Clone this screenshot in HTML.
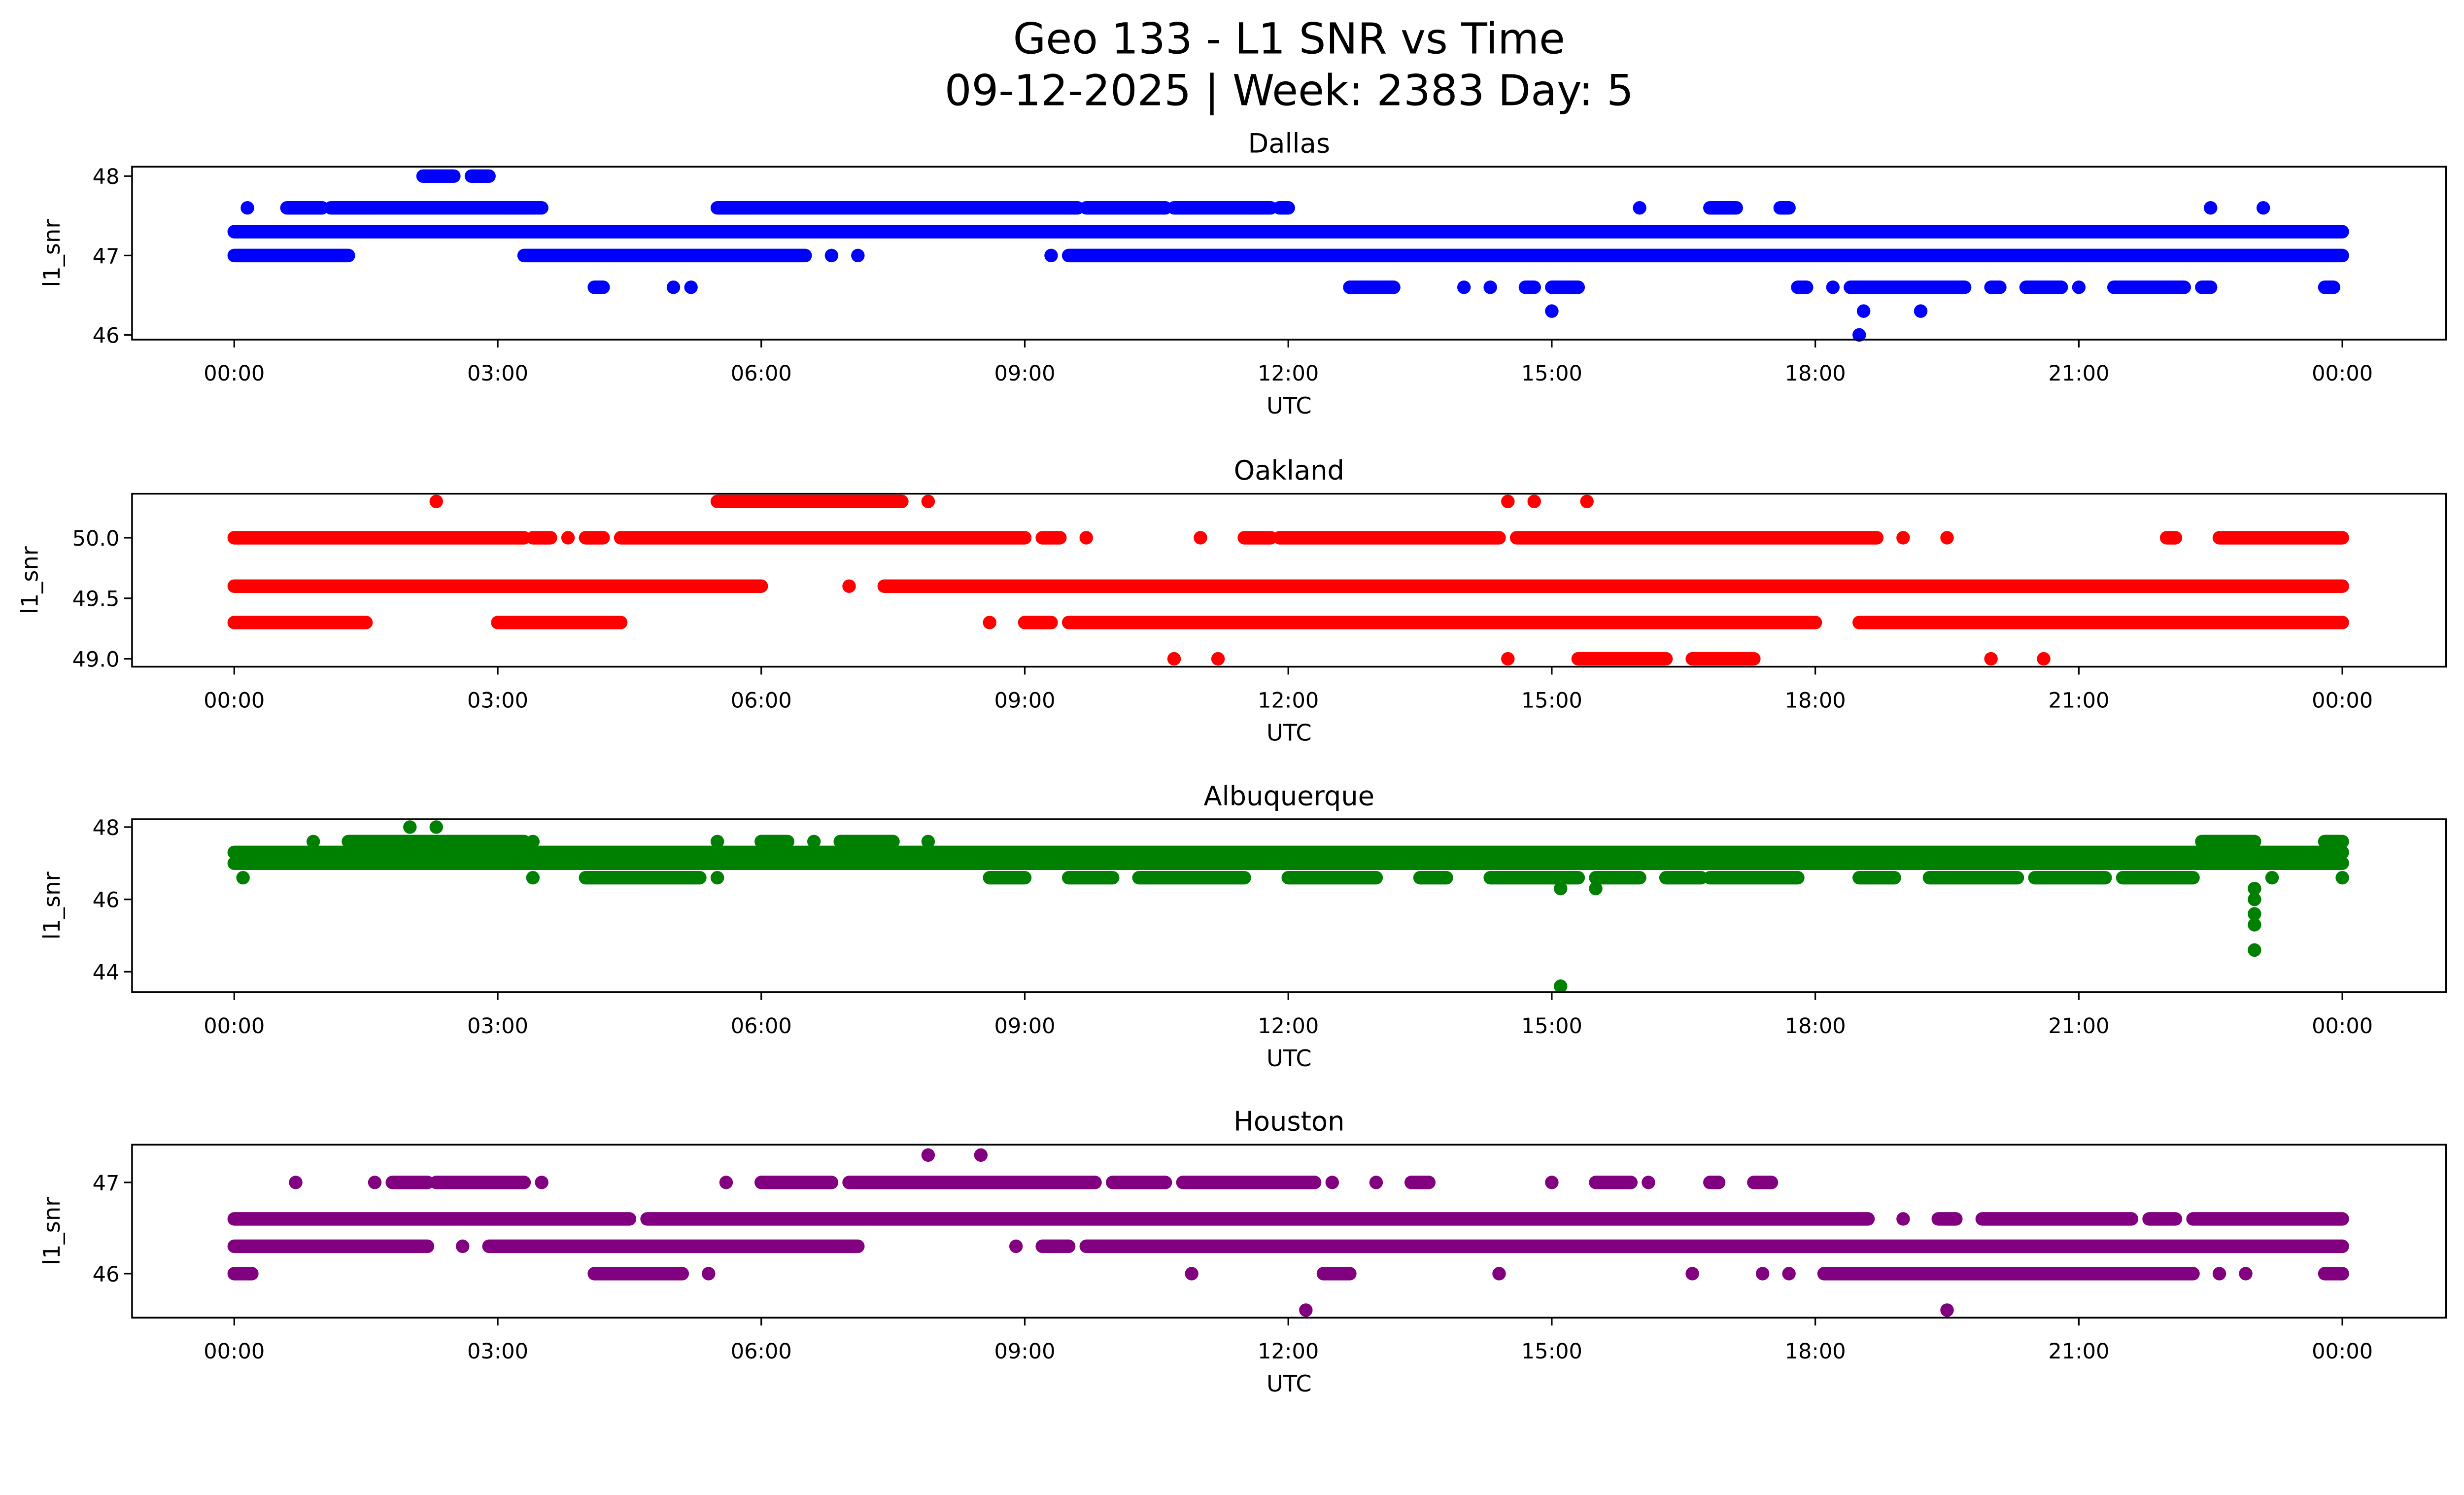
<!DOCTYPE html>
<html><head><meta charset="utf-8"><style>
html,body{margin:0;padding:0;background:#fff;width:5279px;height:3033px;overflow:hidden}
svg{display:block;font-family:"DejaVu Sans","Liberation Sans",sans-serif}
</style></head><body>
<svg id="chart" width="5279" height="3033" viewBox="0 0 5279 3033" xmlns="http://www.w3.org/2000/svg" overflow="hidden">
<rect width="5279" height="3033" fill="#fff"/>
<g id="root" transform="scale(3.19)">
<text x="820" y="34" text-anchor="middle" font-size="27">Geo 133 - L1 SNR vs Time</text>
<text x="820" y="67" text-anchor="middle" font-size="27">09-12-2025 | Week: 2383 Day: 5</text>
</g>
</svg>
<script>
// ---- data (hours UTC, SNR values) ----
const xTickLabels = ["00:00","03:00","06:00","09:00","12:00","15:00","18:00","21:00","00:00"];
const stations = ["Dallas","Oakland","Albuquerque","Houston"];
const colors = ["#0000ff","#ff0000","#008000","#800080"];
const yTicksDallas = [46,47,48];
const yTicksOakland = [49.0,49.5,50.0];
const yTicksAlbuquerque = [44,46,48];
const yTicksHouston = [46,47];
// runs: [value, startHour, endHour]
const runsDallas = [
[47.3,0,24],[47.0,0,1.3],[47.0,3.3,6.5],[47.0,6.8,6.8],[47.0,7.1,7.1],[47.0,9.3,9.3],[47.0,9.5,24],
[47.6,0.15,0.15],[47.6,0.6,1.0],[47.6,1.1,3.5],[47.6,5.5,9.6],[47.6,9.7,10.6],[47.6,10.7,11.8],[47.6,11.9,12.0],
[47.6,16.0,16.0],[47.6,16.8,17.1],[47.6,17.6,17.7],[47.6,22.5,22.5],[47.6,23.1,23.1],
[48.0,2.15,2.5],[48.0,2.7,2.9],
[46.6,4.1,4.2],[46.6,5.0,5.0],[46.6,5.2,5.2],[46.6,12.7,13.2],[46.6,14.0,14.0],[46.6,14.3,14.3],[46.6,14.7,14.8],
[46.6,15.0,15.3],[46.6,17.8,17.9],[46.6,18.2,18.2],[46.6,18.4,19.7],[46.6,20.0,20.1],[46.6,20.4,20.8],[46.6,21.0,21.0],
[46.6,21.4,22.2],[46.6,22.4,22.5],[46.6,23.8,23.9],
[46.3,15.0,15.0],[46.3,18.55,18.55],[46.3,19.2,19.2],[46.0,18.5,18.5]];
const runsOakland = [
[50.3,2.3,2.3],[50.3,5.5,7.6],[50.3,7.9,7.9],[50.3,14.5,14.5],[50.3,14.8,14.8],[50.3,15.4,15.4],
[50.0,0,3.3],[50.0,3.4,3.6],[50.0,3.8,3.8],[50.0,4.0,4.2],[50.0,4.4,9.0],[50.0,9.2,9.4],[50.0,9.7,9.7],[50.0,11.0,11.0],
[50.0,11.5,11.8],[50.0,11.9,14.4],[50.0,14.6,18.7],[50.0,19.0,19.0],[50.0,19.5,19.5],[50.0,22.0,22.1],[50.0,22.6,24],
[49.6,0,6.0],[49.6,7.0,7.0],[49.6,7.4,24],
[49.3,0,1.5],[49.3,3.0,4.4],[49.3,8.6,8.6],[49.3,9.0,9.3],[49.3,9.5,18.0],[49.3,18.5,24],
[49.0,10.7,10.7],[49.0,11.2,11.2],[49.0,14.5,14.5],[49.0,15.3,16.3],[49.0,16.6,17.3],[49.0,20.0,20.0],[49.0,20.6,20.6]];
const runsAlbuquerque = [
[47.0,0,24],[47.3,0,24],
[47.6,0.9,0.9],[47.6,1.3,3.3],[47.6,3.4,3.4],[47.6,5.5,5.5],[47.6,6.0,6.3],[47.6,6.6,6.6],[47.6,6.9,7.5],[47.6,7.9,7.9],[47.6,22.4,23.0],[47.6,23.8,24],
[46.6,0.1,0.1],[46.6,3.4,3.4],[46.6,4.0,5.3],[46.6,5.5,5.5],[46.6,8.6,9.0],[46.6,9.5,10.0],[46.6,10.3,11.5],[46.6,12.0,13.0],
[46.6,13.5,13.8],[46.6,14.3,15.3],[46.6,15.5,16.0],[46.6,16.3,16.7],[46.6,16.8,17.8],[46.6,18.5,18.9],[46.6,19.3,20.3],
[46.6,20.5,21.3],[46.6,21.5,22.3],[46.6,23.2,23.2],[46.6,24,24],
[48.0,2.0,2.0],[48.0,2.3,2.3],[46.3,15.1,15.1],[46.3,15.5,15.5],[46.3,23.0,23.0],[46.0,23.0,23.0],[45.6,23.0,23.0],[45.3,23.0,23.0],
[44.6,23.0,23.0],[43.6,15.1,15.1]];
const runsHouston = [
[47.3,7.9,7.9],[47.3,8.5,8.5],
[47.0,0.7,0.7],[47.0,1.6,1.6],[47.0,1.8,2.2],[47.0,2.3,3.3],[47.0,3.5,3.5],[47.0,5.6,5.6],[47.0,6.0,6.8],[47.0,7.0,9.8],
[47.0,10.0,10.6],[47.0,10.8,12.3],[47.0,12.5,12.5],[47.0,13.0,13.0],[47.0,13.4,13.6],[47.0,15.0,15.0],[47.0,15.5,15.9],
[47.0,16.1,16.1],[47.0,16.8,16.9],[47.0,17.3,17.5],
[46.6,0,4.5],[46.6,4.7,18.6],[46.6,19.0,19.0],[46.6,19.4,19.6],[46.6,19.9,21.6],[46.6,21.8,22.1],[46.6,22.3,24],
[46.3,0,2.2],[46.3,2.6,2.6],[46.3,2.9,7.1],[46.3,8.9,8.9],[46.3,9.2,9.5],[46.3,9.7,24],
[46.0,0,0.2],[46.0,4.1,5.1],[46.0,5.4,5.4],[46.0,10.9,10.9],[46.0,12.4,12.7],[46.0,14.4,14.4],[46.0,16.6,16.6],[46.0,17.4,17.4],
[46.0,17.7,17.7],[46.0,18.1,22.3],[46.0,22.6,22.6],[46.0,22.9,22.9],[46.0,23.8,24],
[45.6,12.2,12.2],[45.6,19.5,19.5]];

const NS="http://www.w3.org/2000/svg";
const root=document.getElementById('root');
function mk(tag,attrs,parent){const e=document.createElementNS(NS,tag);for(const k in attrs)e.setAttribute(k,attrs[k]);(parent||root).appendChild(e);return e;}

const panels=[
 {runs:runsDallas,ticks:yTicksDallas,top:106,bot:216,v1:48,p1:112,v2:46,p2:213,fmt:v=>String(v)},
 {runs:runsOakland,ticks:yTicksOakland,top:314,bot:424,v1:50,p1:342,v2:49,p2:419,fmt:v=>v.toFixed(1)},
 {runs:runsAlbuquerque,ticks:yTicksAlbuquerque,top:521,bot:631,v1:48,p1:526,v2:44,p2:618,fmt:v=>String(v)},
 {runs:runsHouston,ticks:yTicksHouston,top:728,bot:838,v1:47,p1:752,v2:46,p2:810,fmt:v=>String(v)}];
const X0=149,X24=1490,AL=84,AR=1556;
const xScale=h=>X0+h*(X24-X0)/24;

panels.forEach((p,i)=>{
 const yScale=v=>p.p1+(v-p.v1)*(p.p2-p.p1)/(p.v2-p.v1);
 const g=mk('g',{});
 
 
 const t=mk('text',{x:(AL+AR)/2,y:p.top-9,'text-anchor':'middle','font-size':17},g);
 t.textContent=stations[i];
 
 
 const marks=mk('g',{fill:colors[i],stroke:colors[i]},g);
 
 
 p.runs.forEach(r=>{
  const y=yScale(r[0]),xa=xScale(r[1]),xb=xScale(r[2]);
  let m;
  if(r[2]>r[1]) m=mk('line',{x1:xa,x2:xb,y1:y,y2:y,'stroke-width':8.6,'stroke-linecap':'round'},marks);
  else m=mk('circle',{cx:xa,cy:y,r:4.3,stroke:'none'},marks);
  
  
 });
 const frame=mk('rect',{x:AL,y:p.top,width:AR-AL,height:p.bot-p.top,fill:'none',stroke:'#000','stroke-width':1.1},g);
 
 
 xTickLabels.forEach((lab,k)=>{
  const x=xScale(k*3);
  const tk=mk('line',{x1:x,x2:x,y1:p.bot,y2:p.bot+5,stroke:'#000','stroke-width':1},g);
  
  
  const tl=mk('text',{x:x,y:p.bot+26,'text-anchor':'middle','font-size':13.5},g);
  tl.textContent=lab;
  
  
 });
 p.ticks.forEach(v=>{
  const y=yScale(v);
  const tk=mk('line',{x1:AL-5,x2:AL,y1:y,y2:y,stroke:'#000','stroke-width':1},g);
  
  
  const tl=mk('text',{x:AL-8,y:y+5,'text-anchor':'end','font-size':13.5},g);
  tl.textContent=p.fmt(v);
  
  
 });
 const xl=mk('text',{x:(AL+AR)/2,y:p.bot+47,'text-anchor':'middle','font-size':14.5},g);
 xl.textContent='UTC';
 
 
 const cy=(p.top+p.bot)/2;
 const yl=mk('text',{x:0,y:0,'text-anchor':'middle','font-size':14.5,transform:`translate(${i==1?24:38},${cy}) rotate(-90)`},g);
 yl.textContent='l1_snr';
 
 
});
</script>
</body></html>
